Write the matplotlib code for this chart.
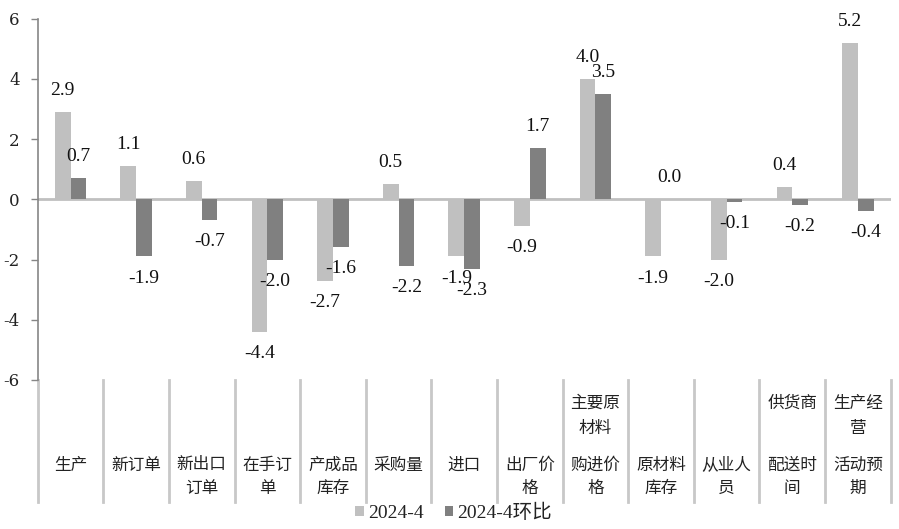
import matplotlib
matplotlib.use("Agg")
import matplotlib.pyplot as plt
import matplotlib.transforms as mtransforms
import numpy as np

# ---- data ----
categories = ["生产", "新订单", "新出口订单", "在手订单", "产成品库存", "采购量", "进口",
              "出厂价格", "主要原材料购进价格", "原材料库存", "从业人员", "供货商配送时间",
              "生产经营活动预期"]
# label layout as shown in the chart (upper block / lower block)
cat_top = ["", "", "", "", "", "", "", "", "主要原\n材料", "", "", "供货商", "生产经\n营"]
cat_bottom = ["生产", "新订单", "新出口\n订单", "在手订\n单", "产成品\n库存", "采购量", "进口",
              "出厂价\n格", "购进价\n格", "原材料\n库存", "从业人\n员", "配送时\n间", "活动预\n期"]
series_names = ["2024-4", "2024-4环比"]
values_2024_4 = [2.9, 1.1, 0.6, -4.4, -2.7, 0.5, -1.9, -0.9, 4.0, -1.9, -2.0, 0.4, 5.2]
values_mom = [0.7, -1.9, -0.7, -2.0, -1.6, -2.2, -2.3, 1.7, 3.5, 0.0, -0.1, -0.2, -0.4]
yticks = [-6, -4, -2, 0, 2, 4, 6]

colors = ["#c0c0c0", "#808080"]
num_font = "Liberation Serif"
cjk_font = "Noto Sans CJK SC"

W, H = 899, 529
fig = plt.figure(figsize=(W / 100, H / 100), dpi=100)
ax_left, ax_right = 37.7, 890.7
ax_top, ax_bot = 18.5, 380.0
ax = fig.add_axes([ax_left / W, 1 - ax_bot / H, (ax_right - ax_left) / W, (ax_bot - ax_top) / H])

x = np.arange(len(categories))
bw = 0.24
b1 = ax.bar(x - bw / 2, values_2024_4, bw, color=colors[0], label=series_names[0], zorder=2)
b2 = ax.bar(x + bw / 2, values_mom, bw, color=colors[1], label=series_names[1], zorder=2)

ax.set_xlim(-0.5, len(categories) - 0.5)
ax.set_ylim(-6, 6)
ax.set_yticks(yticks)
ax.set_yticklabels([str(t) for t in yticks], fontfamily="DejaVu Serif", fontsize=12, color="#222222")
ax.tick_params(axis="y", length=5, width=1, color="#868686", pad=8)
ax.set_xticks([])
for s in ["top", "right", "bottom"]:
    ax.spines[s].set_visible(False)
ax.spines["left"].set_color("#868686")
ax.spines["left"].set_linewidth(1.2)
ax.axhline(0, color="#c0c0c0", lw=2, zorder=1)

# data labels
off = 15.5  # points
for bars, vals in ((b1, values_2024_4), (b2, values_mom)):
    for rect, v in zip(bars, vals):
        cx = rect.get_x() + rect.get_width() / 2
        dy = off if v >= 0 else -off
        ax.annotate(f"{v:.1f}", (cx, v), xytext=(0, dy), textcoords="offset points",
                    ha="center", va="center", fontfamily=num_font, fontsize=14,
                    color="#111111", zorder=5)

# category table: separators and labels
trans = mtransforms.blended_transform_factory(ax.transData, ax.transAxes)
span = ax_bot - ax_top
def ay(px):
    return (ax_bot - px) / span

for k in range(len(categories) + 1):
    ax.plot([k - 0.5, k - 0.5], [0, ay(502)], transform=trans, color="#c8c8c8",
            lw=2, clip_on=False, zorder=1)

top_lines_y = [403, 428]
bot_lines_y = [465, 488]
for i in range(len(categories)):
    for lines, ys in ((cat_top[i], top_lines_y), (cat_bottom[i], bot_lines_y)):
        if not lines:
            continue
        for line, py in zip(lines.split("\n"), ys):
            ax.text(i, ay(py), line, transform=trans, ha="center", va="center",
                    fontfamily=cjk_font, fontsize=12, color="#222222", clip_on=False)

leg = fig.legend(handles=[b1, b2], labels=series_names, loc="center",
                 bbox_to_anchor=(453.5 / W, 1 - 513 / H), ncol=2, frameon=False,
                 handlelength=0.45, handleheight=0.45, handletextpad=0.2,
                 columnspacing=1.1, borderpad=0,
                 prop={"family": [num_font, cjk_font], "size": 14})
for t in leg.get_texts():
    t.set_color("#222222")

fig.savefig("out.png", dpi=100)
